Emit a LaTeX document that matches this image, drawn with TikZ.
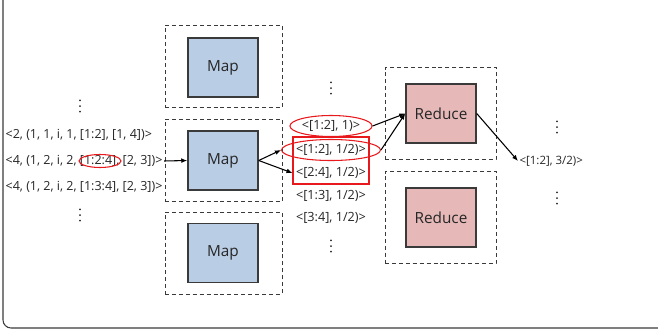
\documentclass[tikz,border=0pt]{standalone}
\usepackage{fontspec}
\setmainfont{Open Sans}
\usetikzlibrary{shapes.geometric,arrows.meta,calc}
\definecolor{mapblue}{HTML}{B9CDE5}
\definecolor{reducepink}{HTML}{E6B9B8}
\definecolor{edgegray}{HTML}{3A3A3A}
\definecolor{ink}{HTML}{262626}
\definecolor{mark}{HTML}{E8191C}
\begin{document}
\begin{tikzpicture}[x=0.75pt,y=-0.75pt,
  worker/.style={draw=edgegray, line width=1.1pt, inner sep=0pt,
    minimum width=52.5pt, minimum height=44.25pt,
    font=\fontsize{11.5}{13}\selectfont, text=ink},
  mapbox/.style={worker, fill=mapblue},
  reducebox/.style={worker, fill=reducepink},
  frame/.style={draw=edgegray, line width=0.75pt, dash pattern=on 3pt off 2.2pt, inner sep=0pt},
  mapframe/.style={frame, minimum width=87.75pt, minimum height=61.5pt},
  reduceframe/.style={frame, minimum width=83.25pt, minimum height=69pt},
  pair/.style={text=ink, inner sep=1pt},
  inpair/.style={pair, font=\fontsize{9.4}{11}\selectfont},
  midpair/.style={pair, font=\fontsize{9.5}{11}\selectfont},
  outpair/.style={pair, font=\fontsize{8.6}{10}\selectfont},
  ring/.style={draw=mark, line width=0.8pt, ellipse, inner sep=0pt},
  more/.style={minimum width=3pt, minimum height=14pt, inner sep=0pt,
    path picture={
      \foreach \k in {-1,0,1}
        \fill[ink] ($(path picture bounding box.center)+(0,\k*4.3pt)$) circle (0.75pt);
    }},
  flow/.style={draw=black, line width=0.8pt, -{Latex[length=4.5pt,width=3.6pt]}}]
\useasboundingbox (0,0) rectangle (658,333);

% outer panel
\draw[edgegray, line width=0.8pt, rounded corners=6pt] (3,-12) rectangle (672,328);

% map stage
\node[mapframe] (mf1) at (223.5,66.5) {};
\node[mapframe] (mf2) at (223.5,160.5) {};
\node[mapframe] (mf3) at (223.5,253) {};
\node[mapbox] (map1) at (223,67.5) {Map};
\node[mapbox] (map2) at (223,160.5) {Map};
\node[mapbox] (map3) at (223,253) {Map};

% reduce stage
\node[reduceframe] (rf1) at (440.5,113.5) {};
\node[reduceframe] (rf2) at (440.5,217.5) {};
\node[reducebox] (red1) at (441,113.5) {Reduce};
\node[reducebox] (red2) at (441,217.5) {Reduce};

% input records
\node[more] (indots1) at (80,106) {};
\node[inpair, anchor=west] (in1) at (4,135) {<2, (1, 1, i, 1, [1:2], [1, 4])>};
\node[inpair, anchor=west] (in2) at (4,161) {<4, (1, 2, i, 2, [1:2:4], [2, 3])>};
\node[inpair, anchor=west] (in3) at (4,187) {<4, (1, 2, i, 2, [1:3:4], [2, 3])>};
\node[more] (indots2) at (80,215) {};
\node[ring, minimum width=31.5pt, minimum height=9.75pt] (key) at (100,161) {};

% intermediate pairs
\node[more] (middots1) at (331,88) {};
\node[midpair, ring, minimum width=57pt, minimum height=15.75pt] (p1) at (331,126) {<[1:2], 1)>};
\node[draw=mark, line width=0.8pt, minimum width=57pt, minimum height=35.25pt, inner sep=0pt] (grp) at (331,160.5) {};
\node[midpair, ring, minimum width=57pt, minimum height=15.75pt] (p2) at (331,150) {<[1:2], 1/2)>};
\node[midpair] (p3) at (331,173) {<[2:4], 1/2)>};
\node[midpair] (p4) at (331,196) {<[1:3], 1/2)>};
\node[midpair] (p5) at (331,218) {<[3:4], 1/2)>};
\node[more] (middots2) at (331,246) {};

% output
\node[more] (outdots1) at (557,127) {};
\node[outpair, anchor=west] (out) at (518,161) {<[1:2], 3/2)>};
\node[more] (outdots2) at (557,198) {};

% data flow
\draw[flow] (in2.east) -- (map2.west);
\draw[flow] (map2.east) -- (p2.west);
\draw[flow] (map2.east) -- (grp.west |- p3);
\draw[flow] (p1.east) -- (red1.west);
\draw[flow] (p2.east) -- (red1.west);
\draw[flow] (red1.east) -- (out.west);
\end{tikzpicture}
\end{document}
